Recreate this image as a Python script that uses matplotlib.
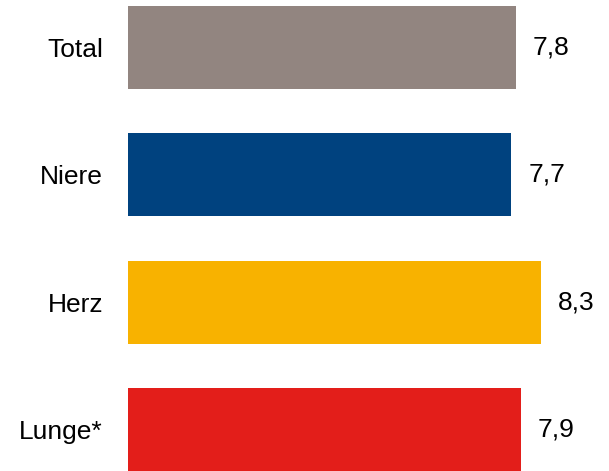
import matplotlib
matplotlib.use("Agg")
import matplotlib.pyplot as plt

categories = ["Total", "Niere", "Herz", "Lunge*"]
values = [7.8, 7.7, 8.3, 7.9]
colors = ["#928580", "#00427f", "#f8b200", "#e31e1a"]

plt.rcParams['font.family'] = ['Liberation Sans', 'DejaVu Sans']

fig = plt.figure(figsize=(6.09, 4.71), dpi=100)
ax = fig.add_axes([128/609, 0, 481/609, 1])
y = list(range(len(categories)))
bars = ax.barh(y, values, height=0.65, color=colors)
ax.set_ylim(3.325, -0.3725)
ax.set_xlim(0, 481/49.8)
ax.set_yticks(y)
ax.set_yticklabels(categories, fontsize=19)
ax.tick_params(axis='y', length=0, pad=18)
ax.set_xticks([])
for s in ax.spines.values():
    s.set_visible(False)
for b, v in zip(bars, values):
    ax.annotate(f"{v:.1f}".replace(".", ","), (b.get_width(), b.get_y() + b.get_height()/2),
                xytext=(12, 0), textcoords="offset points", va="center", ha="left", fontsize=19)
fig.savefig("out.png", dpi=100)
